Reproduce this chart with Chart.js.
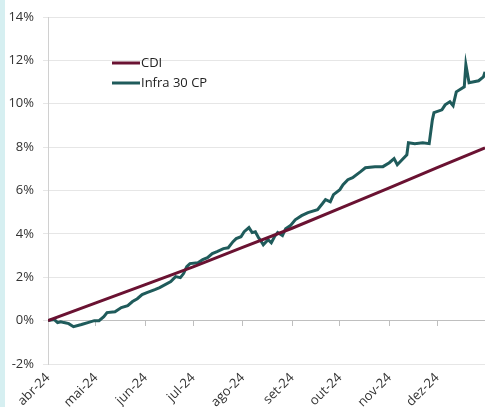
<!DOCTYPE html>
<html>
<head>
<meta charset="utf-8">
<script src="https://cdn.jsdelivr.net/npm/chart.js@4/dist/chart.umd.min.js"></script>
<style>
  html, body { margin: 0; padding: 0; background: #fff; }
  #wrap { position: relative; width: 485px; height: 407px; }
  #strip { position: absolute; left: 0; top: 0; width: 5px; height: 407px; background: #d6eff1; }
</style>
</head>
<body>
<div id="wrap">
  <canvas id="chart" width="485" height="407"></canvas>
  <div id="strip"></div>
</div>
<script>
// dados (datas e % acumulado)
const startDate = '2024-04-01';
const endDate = '2024-12-31';

const monthTicks = ['2024-04-01','2024-05-01','2024-06-01','2024-07-01','2024-08-01','2024-09-01','2024-10-01','2024-11-01','2024-12-01'];
const monthLabels = ['abr-24','mai-24','jun-24','jul-24','ago-24','set-24','out-24','nov-24','dez-24'];

const cdiDates = ['2024-04-01','2024-05-01','2024-06-01','2024-07-01','2024-08-01','2024-09-01','2024-10-01','2024-11-01','2024-12-01','2024-12-31'];
const cdiValues = [0, 0.82, 1.66, 2.48, 3.38, 4.26, 5.18, 6.12, 7.06, 7.97];

const infraDates = [
  '2024-04-01','2024-04-05','2024-04-07','2024-04-09','2024-04-11','2024-04-14','2024-04-17','2024-04-22','2024-04-26','2024-04-30',
  '2024-05-03','2024-05-06','2024-05-08','2024-05-13','2024-05-17','2024-05-21','2024-05-24','2024-05-27','2024-05-30',
  '2024-06-02','2024-06-07','2024-06-10','2024-06-17','2024-06-20','2024-06-23','2024-06-25','2024-06-27','2024-06-29',
  '2024-07-04','2024-07-07','2024-07-10','2024-07-13','2024-07-16','2024-07-20','2024-07-23','2024-07-26','2024-07-28','2024-07-31',
  '2024-08-02','2024-08-05','2024-08-07','2024-08-09','2024-08-11','2024-08-12','2024-08-14','2024-08-17','2024-08-19','2024-08-21','2024-08-23','2024-08-26','2024-08-28','2024-08-31',
  '2024-09-03','2024-09-07','2024-09-11','2024-09-17','2024-09-20','2024-09-22','2024-09-25','2024-09-27',
  '2024-10-01','2024-10-03','2024-10-06','2024-10-09','2024-10-14','2024-10-17','2024-10-23','2024-10-28',
  '2024-11-01','2024-11-04','2024-11-06','2024-11-09','2024-11-12','2024-11-13','2024-11-17','2024-11-22','2024-11-26','2024-11-28','2024-11-29',
  '2024-12-04','2024-12-06','2024-12-09','2024-12-11','2024-12-13','2024-12-18','2024-12-19','2024-12-21','2024-12-27','2024-12-30','2024-12-31'
];
const infraValues = [
  0.00, 0.05, -0.09, -0.05, -0.09, -0.14, -0.28, -0.18, -0.09, 0.00,
  0.00, 0.18, 0.37, 0.41, 0.60, 0.69, 0.88, 1.01, 1.20,
  1.29, 1.43, 1.52, 1.80, 2.03, 1.98, 2.17, 2.49, 2.63,
  2.67, 2.81, 2.90, 3.09, 3.18, 3.32, 3.36, 3.64, 3.78, 3.87,
  4.10, 4.29, 4.06, 4.10, 3.82, 3.73, 3.50, 3.73, 3.59, 3.87, 4.06, 3.92, 4.24, 4.38,
  4.65, 4.84, 4.98, 5.12, 5.39, 5.58, 5.48, 5.81,
  6.04, 6.27, 6.50, 6.59, 6.87, 7.05, 7.10, 7.10,
  7.28, 7.47, 7.19, 7.42, 7.65, 8.20, 8.16, 8.20, 8.16, 9.26, 9.59,
  9.72, 9.95, 10.09, 9.91, 10.55, 10.78, 11.80, 10.97, 11.06, 11.24, 11.47
];

const yTicks = [-2, 0, 2, 4, 6, 8, 10, 12, 14];

// dias desde o início
const dayOf = d => (Date.parse(d) - Date.parse(startDate)) / 86400000;
const tickDays = monthTicks.map(dayOf);
const pts = (dates, vals) => dates.map((d, i) => ({ x: dayOf(d), y: vals[i] }));

const FONT = "'Open Sans', sans-serif";

// legenda dentro da área do gráfico
const legendPlugin = {
  id: 'innerLegend',
  afterDraw(chart) {
    const ctx = chart.ctx;
    ctx.save();
    ctx.font = '13px ' + FONT;
    ctx.textBaseline = 'middle';
    chart.data.datasets.forEach((ds, i) => {
      const y = 63 + i * 20;
      ctx.strokeStyle = ds.borderColor;
      ctx.lineWidth = 3;
      ctx.beginPath();
      ctx.moveTo(112, y);
      ctx.lineTo(140, y);
      ctx.stroke();
      ctx.fillStyle = '#222';
      ctx.fillText(ds.label, 141, y);
    });
    ctx.restore();
  }
};

const xRange = { min: 0, max: dayOf(endDate) };

new Chart(document.getElementById('chart'), {
  type: 'line',
  data: {
    datasets: [
      { label: 'CDI', data: pts(cdiDates, cdiValues), borderColor: '#6a1232', borderWidth: 3, pointRadius: 0, tension: 0 },
      { label: 'Infra 30 CP', data: pts(infraDates, infraValues), borderColor: '#1f5b5b', borderWidth: 3, pointRadius: 0, tension: 0 }
    ]
  },
  options: {
    responsive: false,
    animation: false,
    layout: { padding: { top: 17, right: 0, left: 0, bottom: 0 } },
    plugins: { legend: { display: false }, tooltip: { enabled: false } },
    scales: {
      y: {
        min: -2, max: 14,
        afterBuildTicks: s => { s.ticks = yTicks.map(v => ({ value: v })); },
        afterFit: s => { s.width = 48; },
        ticks: { callback: v => v + '%', color: '#333', font: { family: FONT, size: 13 }, padding: 9 },
        grid: { color: '#e6e6e6', tickLength: 5 },
        border: { color: '#d0d0d0' }
      },
      x: {
        type: 'linear', position: { y: 0 }, ...xRange,
        afterBuildTicks: s => { s.ticks = tickDays.map(v => ({ value: v })); },
        ticks: { display: false },
        grid: { drawOnChartArea: false, color: '#bfbfbf', tickLength: 5 },
        border: { color: '#bfbfbf' }
      },
      x2: {
        type: 'linear', position: 'bottom', ...xRange,
        afterBuildTicks: s => { s.ticks = tickDays.map(v => ({ value: v })); },
        afterFit: s => { s.height = 43; },
        ticks: {
          autoSkip: false, maxRotation: 45, minRotation: 45, padding: 6,
          color: '#333', font: { family: FONT, size: 13 },
          callback: v => monthLabels[tickDays.indexOf(v)]
        },
        grid: { display: false, drawTicks: false },
        border: { display: false }
      }
    }
  },
  plugins: [legendPlugin]
});
</script>
</body>
</html>
